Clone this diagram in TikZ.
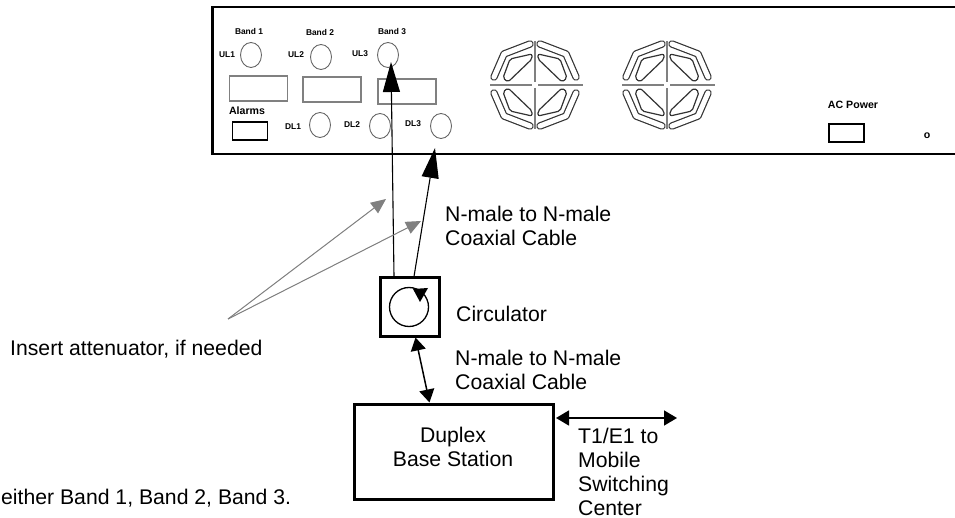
\documentclass[tikz,border=0pt]{standalone}
\usepackage{fontspec}
\setmainfont{Liberation Sans}
\usetikzlibrary{arrows.meta,shapes.geometric}
\tikzset{
  oval/.style={draw=black!60,line width=0.9pt,ellipse,minimum width=21pt,minimum height=25pt,inner sep=0pt},
  grayrect/.style={draw=black!50,line width=1.7pt,minimum width=58pt,minimum height=25pt,inner sep=0pt},
  blackrect/.style={draw=black,line width=1.9pt,minimum width=35pt,minimum height=18pt,inner sep=0pt},
  small/.style={font=\fontsize{8.4}{10}\selectfont\bfseries,inner sep=0pt},
  smallbig/.style={font=\fontsize{10.6}{12}\selectfont\bfseries,inner sep=0pt},
  lbl/.style={font=\fontsize{21.2}{24}\selectfont,inner sep=0pt,align=left},
  thickbox/.style={draw=black,line width=3pt,inner sep=0pt},
  bigarrow/.style={line width=1.1pt,-{Triangle[length=30pt,width=17pt]}},
  dblarrow/.style={line width=1.5pt,{Triangle[length=13pt,width=15pt]}-{Triangle[length=13pt,width=15pt]}},
  grayarrow/.style={draw=black!50,fill=black!50,line width=1pt,-{Triangle[length=15pt,width=13pt]}},
  stadium/.style={line cap=round,line join=round},
  crossline/.style={draw=black!50,line width=1.7pt},
}
\newcommand{\fanquarter}[2]{%
  \begin{scope}[xscale=#1,yscale=#2]
    \draw[stadium,black!80,line width=7.4pt] (-5,-41) -- (-31,-31) -- (-41,-8);
    \draw[stadium,white,line width=5pt] (-5,-41) -- (-31,-31) -- (-41,-8);
    \draw[black!80,line width=1.2pt,rounded corners=2pt,fill=white]
      (-3,-31) -- (-25,-26) -- (-32,-7) -- (-27,-3) -- (-3,-26) -- cycle;
  \end{scope}}
\newcommand{\fanat}[2]{%
  \begin{scope}[shift={(#1,#2)}]
    \fanquarter{1}{1}\fanquarter{-1}{1}\fanquarter{1}{-1}\fanquarter{-1}{-1}
    \draw[crossline] (-45,0) -- (-3,0);
    \draw[crossline] (3,0) -- (48,0);
    \draw[crossline] (0,-44) -- (0,-3);
    \draw[crossline] (0,3) -- (0,44);
  \end{scope}}
\begin{document}
\begin{tikzpicture}[x=1pt,y=-1pt]
\useasboundingbox (0,0) rectangle (955,518);
% panel
\draw[black,line width=2.3pt] (955,6.7) -- (212.5,6.7) -- (212.5,154) -- (955,154);
% ovals
\node[oval] (ul1) at (251,55) {};
\node[oval] (ul2) at (321,57) {};
\node[oval] (ul3) at (388,55) {};
\node[oval] (dl1) at (320,125) {};
\node[oval] (dl2) at (380,126) {};
\node[oval] (dl3) at (441,126) {};
% rects
\node[grayrect] (r1) at (258.5,88.5) {};
\node[grayrect] (r2) at (332,89.5) {};
\node[grayrect] (r3) at (407,91.5) {};
\node[blackrect] (alarmbox) at (250,131) {};
\node[blackrect] (acbox) at (846.5,133) {};
% small labels
\node[small] (b1) at (249,32) {Band 1};
\node[small] (b2) at (320,33) {Band 2};
\node[small] (b3) at (392,32) {Band 3};
\node[small] (ul1l) at (227,55) {UL1};
\node[small] (ul2l) at (296,55) {UL2};
\node[small] (ul3l) at (360,54) {UL3};
\node[small] (dl1l) at (293,127) {DL1};
\node[small] (dl2l) at (352,125) {DL2};
\node[small] (dl3l) at (413,124) {DL3};
\node[smallbig] (al) at (247,111) {Alarms};
\node[smallbig] (ac) at (853,105) {AC Power};
\node[smallbig] (led) at (927,135.5) {o};
% fans
\fanat{535}{85}
\fanat{667}{85}
% circulator
\node[thickbox,minimum width=59pt,minimum height=58pt] (circ) at (409.5,307) {};
\node[draw=black,line width=1.3pt,circle,minimum size=39pt,inner sep=0pt] (ring) at (409,307) {};
\fill[black] (413,289) -- (428,288) -- (420,302) -- cycle;
% base station
\node[thickbox,minimum width=199pt,minimum height=95pt] (bs) at (453.5,451.5) {};
\node[lbl,align=center] (bst) at (453,447) {Duplex\\Base Station};
% free ends
\coordinate (tipul) at ([shift={(3,7)}]ul3.center);
\coordinate (tipdl) at ([shift={(-6,22)}]dl3.center);
\coordinate (rtip) at (677,418);
\coordinate (attsrc) at (228,319);
\coordinate (att1) at (386,199);
\coordinate (att2) at (421,221);
% connectors
\draw[bigarrow] ([xshift=-15.5pt]circ.north) -- (tipul);
\draw[bigarrow] ([xshift=4.5pt]circ.north) -- (tipdl);
\draw[dblarrow] ([shift={(6,0)}]circ.south) -- ([xshift=-24pt]bs.north);
\draw[dblarrow] ([xshift=1.5pt]bs.east |- rtip) -- (rtip);
\draw[grayarrow] (attsrc) -- (att1);
\draw[grayarrow] (attsrc) -- (att2);
% labels
\node[lbl,anchor=west] (l1) at (445,226) {N-male to N-male\\Coaxial Cable};
\node[lbl,anchor=west] (l2) at (455,369.5) {N-male to N-male\\Coaxial Cable};
\node[lbl,anchor=west] (l3) at (456,314) {Circulator};
\node[lbl,anchor=west] (l4) at (10,349) {Insert attenuator, if needed};
\node[lbl,anchor=north west] (l5) at (578,427.5) {T1/E1 to\\Mobile\\Switching\\Center};
\node[lbl,anchor=west] (l6) at (1,498) {either Band 1, Band 2, Band 3.};
\end{tikzpicture}
\end{document}
